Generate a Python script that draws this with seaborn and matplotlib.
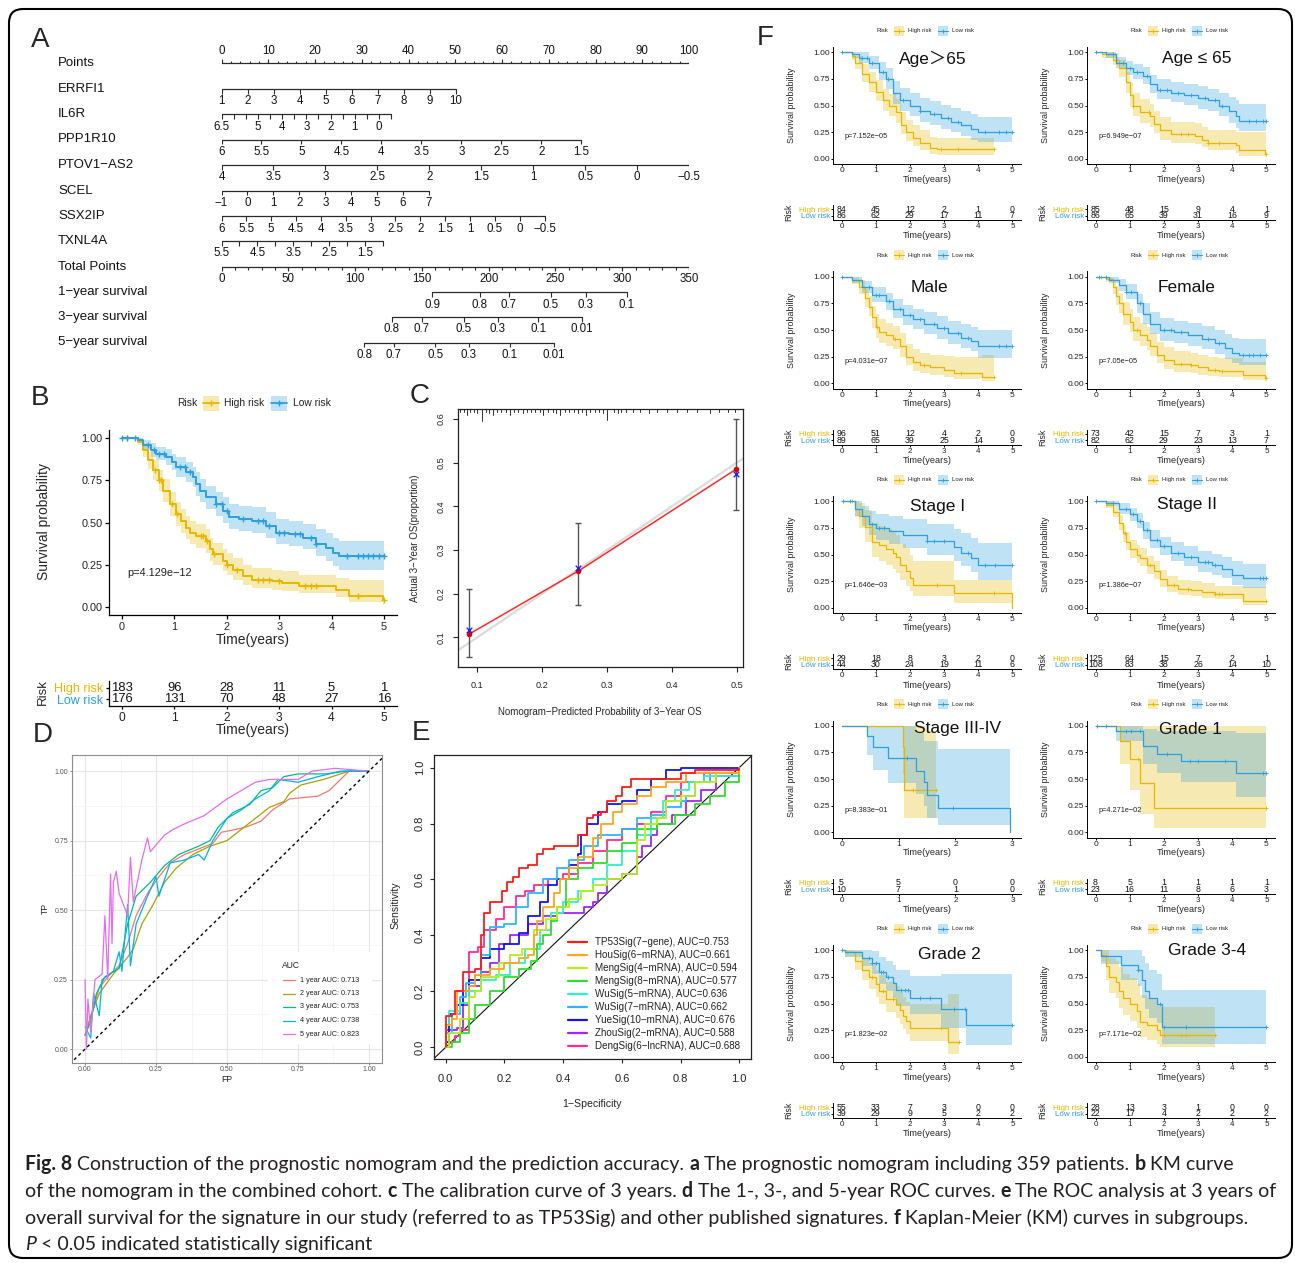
import numpy as np
import matplotlib
matplotlib.use('Agg')
import matplotlib.pyplot as plt
import seaborn as sns
from matplotlib.patches import Rectangle, FancyBboxPatch

W, H = 1295, 1263
sns.set_theme(style='white')
plt.rcParams['font.family'] = ['Liberation Sans', 'DejaVu Sans']
plt.rcParams['axes.unicode_minus'] = True
HIGH_C = '#E7B800'
LOW_C = '#2E9FDF'

# ===================== DATA =====================
# ---- A: nomogram (value ticks, points at first / last value) ----
nomo_names = ['Points', 'ERRFI1', 'IL6R', 'PPP1R10', 'PTOV1−AS2', 'SCEL', 'SSX2IP', 'TXNL4A',
              'Total Points', '1−year survival', '3−year survival', '5−year survival']
ERRFI1_vals = [1, 2, 3, 4, 5, 6, 7, 8, 9, 10]
ERRFI1_lab = [1, 2, 3, 4, 5, 6, 7, 8, 9, 10]
ERRFI1_pts = (0, 50.1)
IL6R_vals = [6.5, 6, 5.5, 5, 4.5, 4, 3.5, 3, 2.5, 2, 1.5, 1, 0.5, 0, -0.5]
IL6R_lab = [6.5, 5, 4, 3, 2, 1, 0]
IL6R_pts = (0, 36.3)
PPP1R10_vals = [6, 5.5, 5, 4.5, 4, 3.5, 3, 2.5, 2, 1.5]
PPP1R10_lab = PPP1R10_vals
PPP1R10_pts = (0, 77.0)
PTOV1_vals = [4, 3.5, 3, 2.5, 2, 1.5, 1, 0.5, 0, -0.5]
PTOV1_lab = PTOV1_vals
PTOV1_pts = (0, 100)
SCEL_vals = [-1, 0, 1, 2, 3, 4, 5, 6, 7]
SCEL_lab = SCEL_vals
SCEL_pts = (0, 44.4)
SSX2IP_vals = [6, 5.5, 5, 4.5, 4, 3.5, 3, 2.5, 2, 1.5, 1, 0.5, 0, -0.5]
SSX2IP_lab = SSX2IP_vals
SSX2IP_pts = (0, 69.1)
TXNL4A_vals = [5.5, 5, 4.5, 4, 3.5, 3, 2.5, 2, 1.5, 1.0]
TXNL4A_lab = [5.5, 4.5, 3.5, 2.5, 1.5]
TXNL4A_pts = (0, 34.5)
surv1_lab = [0.9, 0.8, 0.7, 0.5, 0.3, 0.1]
surv1_tot = [157.9, 193.4, 215.2, 246.7, 272.6, 303.4]
surv3_lab = [0.8, 0.7, 0.5, 0.3, 0.1, 0.01]
surv3_tot = [127.4, 149.9, 181.5, 206.9, 237.0, 269.7]
surv5_lab = [0.8, 0.7, 0.5, 0.3, 0.1, 0.01]
surv5_tot = [106.7, 128.8, 160.1, 185.1, 215.9, 248.6]

# ---- B: KM (time, surv, lower, upper) ----
B_high = [(0, 1, 1, 1), (0.3, 0.98, 0.96, 1.0), (0.4, 0.93, 0.89, 0.97), (0.5, 0.87, 0.82, 0.92),
          (0.59, 0.81, 0.75, 0.87), (0.7, 0.75, 0.69, 0.81), (0.78, 0.69, 0.62, 0.76), (0.91, 0.61, 0.54, 0.68),
          (1.03, 0.55, 0.48, 0.62), (1.12, 0.51, 0.44, 0.58), (1.22, 0.47, 0.40, 0.54), (1.3, 0.44, 0.37, 0.51),
          (1.41, 0.42, 0.35, 0.49), (1.6, 0.39, 0.32, 0.46), (1.67, 0.34, 0.27, 0.41), (1.73, 0.31, 0.25, 0.38),
          (1.92, 0.27, 0.21, 0.34), (2.0, 0.25, 0.19, 0.32), (2.11, 0.22, 0.16, 0.29), (2.3, 0.18, 0.13, 0.25),
          (2.49, 0.16, 0.11, 0.23), (2.87, 0.15, 0.10, 0.22), (3.06, 0.14, 0.09, 0.21), (3.38, 0.12, 0.08, 0.19),
          (4.08, 0.10, 0.06, 0.17), (4.33, 0.065, 0.03, 0.16), (4.99, 0.04, 0.01, 0.16)]
B_high_cens = [0.1, 0.62, 0.7, 0.75, 0.95, 1.05, 1.5, 1.55, 1.62, 1.75, 2.0, 2.2, 2.6, 2.7, 2.8, 3.0,
               3.5, 3.6, 3.7, 4.5, 5.0]
B_low = [(0, 1, 1, 1), (0.3, 0.99, 0.98, 1.0), (0.4, 0.96, 0.93, 0.99), (0.55, 0.93, 0.89, 0.97),
         (0.65, 0.91, 0.87, 0.95), (0.84, 0.89, 0.84, 0.94), (0.95, 0.86, 0.81, 0.91), (1.03, 0.83, 0.77, 0.89),
         (1.22, 0.80, 0.74, 0.86), (1.35, 0.77, 0.71, 0.83), (1.42, 0.73, 0.66, 0.80), (1.48, 0.69, 0.62, 0.76),
         (1.6, 0.65, 0.58, 0.72), (1.8, 0.61, 0.54, 0.68), (1.92, 0.57, 0.50, 0.65), (2.05, 0.53, 0.46, 0.61),
         (2.24, 0.52, 0.45, 0.60), (2.49, 0.51, 0.44, 0.59), (2.75, 0.48, 0.41, 0.56), (2.94, 0.44, 0.37, 0.52),
         (3.19, 0.43, 0.36, 0.51), (3.45, 0.41, 0.34, 0.49), (3.7, 0.37, 0.30, 0.46), (3.89, 0.35, 0.27, 0.44),
         (4.02, 0.32, 0.24, 0.41), (4.14, 0.30, 0.22, 0.39)]
B_low_cens = [0.0, 0.1, 0.25, 0.5, 0.6, 0.7, 0.8, 1.1, 1.2, 1.3, 1.8, 1.9, 2.0, 2.3, 2.6, 2.7, 2.8, 3.0,
              3.1, 3.3, 3.4, 3.6, 3.7, 4.3, 4.5, 4.6, 4.7, 4.8, 4.9, 5.0]
B_risk_high = [183, 96, 28, 11, 5, 1]
B_risk_low = [176, 131, 70, 48, 27, 16]

# ---- C: calibration ----
cal_pred = [0.087, 0.256, 0.499]
cal_obs = [0.107, 0.252, 0.485]
cal_km = [0.117, 0.259, 0.473]
cal_lo = [0.055, 0.175, 0.392]
cal_hi = [0.211, 0.361, 0.599]
cal_rug = [(0.073, 3), (0.079, 3), (0.084, 6), (0.089, 3), (0.095, 3), (0.100, 4), (0.107, 12), (0.113, 3),
           (0.118, 4), (0.124, 6), (0.131, 3), (0.137, 3), (0.144, 3), (0.151, 6), (0.157, 3), (0.163, 3),
           (0.170, 4), (0.177, 3), (0.183, 3), (0.189, 3), (0.196, 3), (0.202, 6), (0.209, 3), (0.216, 3),
           (0.222, 4), (0.228, 6), (0.235, 3), (0.241, 3), (0.249, 3), (0.255, 4), (0.262, 3), (0.268, 6),
           (0.274, 3), (0.281, 3), (0.287, 3), (0.294, 4), (0.300, 11), (0.310, 3), (0.317, 4), (0.322, 3),
           (0.330, 3), (0.340, 3), (0.351, 3), (0.364, 4), (0.377, 3), (0.392, 3), (0.408, 3), (0.423, 3),
           (0.438, 3), (0.459, 4), (0.472, 3), (0.487, 3), (0.497, 3)]

# ---- D: time-dependent ROC (FP, TP) ----
D_labels = ['1 year AUC: 0.713', '2 year AUC: 0.713', '3 year AUC: 0.753', '4 year AUC: 0.738', '5 year AUC: 0.823']
D_colors = ['#F8766D', '#A3A500', '#00BF7D', '#00B0F6', '#E76BF3']
roc_1y = [(0, 0.05), (0.01, 0.08), (0.03, 0.15), (0.05, 0.22), (0.08, 0.26), (0.12, 0.30), (0.15, 0.38),
          (0.18, 0.48), (0.22, 0.56), (0.26, 0.62), (0.30, 0.67), (0.35, 0.70), (0.40, 0.72), (0.45, 0.74),
          (0.48, 0.78), (0.53, 0.79), (0.57, 0.80), (0.62, 0.82), (0.66, 0.86), (0.72, 0.90), (0.82, 0.91),
          (0.86, 0.93), (0.90, 0.97), (0.93, 1.0), (1, 1)]
roc_2y = [(0, 0.05), (0.02, 0.12), (0.05, 0.2), (0.1, 0.27), (0.15, 0.33), (0.17, 0.36), (0.2, 0.45),
          (0.24, 0.52), (0.28, 0.6), (0.32, 0.65), (0.38, 0.70), (0.44, 0.73), (0.50, 0.75), (0.55, 0.79),
          (0.60, 0.83), (0.65, 0.87), (0.70, 0.89), (0.72, 0.92), (0.76, 0.95), (0.84, 0.97), (0.90, 0.99),
          (0.93, 1.0), (1, 1)]
roc_3y = [(0, 0.05), (0.02, 0.1), (0.04, 0.2), (0.07, 0.26), (0.12, 0.29), (0.15, 0.45), (0.18, 0.55),
          (0.23, 0.6), (0.28, 0.66), (0.33, 0.7), (0.40, 0.73), (0.44, 0.75), (0.47, 0.8), (0.52, 0.85),
          (0.58, 0.88), (0.62, 0.93), (0.66, 0.94), (0.7, 0.98), (0.75, 0.99), (0.85, 0.99), (0.92, 1.0), (1, 1)]
roc_4y = [(0, 0.08), (0.02, 0.04), (0.03, 0.2), (0.05, 0.12), (0.06, 0.25), (0.1, 0.28), (0.12, 0.35),
          (0.13, 0.28), (0.15, 0.52), (0.16, 0.30), (0.18, 0.45), (0.22, 0.55), (0.25, 0.62), (0.26, 0.55),
          (0.3, 0.67), (0.35, 0.68), (0.4, 0.7), (0.42, 0.68), (0.45, 0.75), (0.5, 0.83), (0.55, 0.86),
          (0.6, 0.9), (0.65, 0.93), (0.68, 0.97), (0.75, 0.96), (0.82, 0.98), (0.9, 1.0), (1, 1)]
roc_5y = [(0, 0.25), (0.005, 0.0), (0.01, 0.18), (0.02, 0.06), (0.035, 0.25), (0.06, 0.27), (0.07, 0.48),
          (0.08, 0.25), (0.09, 0.63), (0.095, 0.38), (0.1, 0.6), (0.11, 0.64), (0.12, 0.56), (0.15, 0.48),
          (0.16, 0.69), (0.17, 0.53), (0.2, 0.68), (0.22, 0.76), (0.23, 0.71), (0.28, 0.77), (0.31, 0.79),
          (0.35, 0.81), (0.42, 0.84), (0.5, 0.9), (0.55, 0.93), (0.6, 0.96), (0.65, 0.97), (0.75, 0.97),
          (0.8, 1.0), (0.88, 1.01), (1, 1)]

# ---- E: comparison ROC (1-specificity, sensitivity) ----
E_labels = ['TP53Sig(7−gene), AUC=0.753', 'HouSig(6−mRNA), AUC=0.661', 'MengSig(4−mRNA), AUC=0.594',
            'MengSig(8−mRNA), AUC=0.577', 'WuSig(5−mRNA), AUC=0.636', 'WuSig(7−mRNA), AUC=0.662',
            'YueSig(10−mRNA), AUC=0.676', 'ZhouSig(2−mRNA), AUC=0.588', 'DengSig(6−lncRNA), AUC=0.688']
E_colors = ['#FF1A1A', '#FFA51F', '#B5EE1F', '#2EDD2E', '#2EF2C4', '#2EB4FF', '#1414F0', '#A326F2', '#FF2B95']
tp53 = [(0, 0.0), (0, 0.11), (0.02, 0.12), (0.03, 0.2), (0.06, 0.21), (0.06, 0.27), (0.1, 0.28), (0.12, 0.4),
        (0.13, 0.48), (0.15, 0.52), (0.19, 0.56), (0.21, 0.59), (0.23, 0.61), (0.25, 0.64), (0.28, 0.65),
        (0.31, 0.69), (0.33, 0.71), (0.37, 0.72), (0.43, 0.72), (0.45, 0.76), (0.48, 0.82), (0.5, 0.83),
        (0.53, 0.84), (0.55, 0.88), (0.58, 0.9), (0.6, 0.93), (0.63, 0.96), (0.75, 0.96), (0.8, 0.98),
        (0.85, 0.99), (1.0, 1.0)]
hou = [(0, 0.0), (0, 0.08), (0.02, 0.1), (0.04, 0.2), (0.08, 0.22), (0.1, 0.26), (0.15, 0.28), (0.2, 0.3),
       (0.25, 0.32), (0.28, 0.33), (0.3, 0.4), (0.31, 0.45), (0.33, 0.5), (0.37, 0.55), (0.39, 0.6), (0.42, 0.64),
       (0.45, 0.68), (0.5, 0.75), (0.53, 0.8), (0.57, 0.84), (0.6, 0.87), (0.65, 0.9), (0.7, 0.93),
       (0.75, 0.95), (0.82, 0.98), (1, 1)]
meng4 = [(0, 0.0), (0.01, 0.05), (0.05, 0.1), (0.08, 0.18), (0.1, 0.2), (0.12, 0.25), (0.18, 0.3),
         (0.22, 0.33), (0.26, 0.35), (0.3, 0.42), (0.34, 0.46), (0.38, 0.5), (0.42, 0.53), (0.46, 0.56),
         (0.5, 0.58), (0.55, 0.6), (0.6, 0.62), (0.65, 0.64), (0.65, 0.74), (0.68, 0.8), (0.72, 0.82),
         (0.75, 0.88), (0.8, 0.9), (0.85, 0.95), (0.92, 0.98), (1, 1)]
meng8 = [(0, 0.0), (0.02, 0.02), (0.05, 0.05), (0.08, 0.1), (0.1, 0.15), (0.15, 0.2), (0.2, 0.25),
         (0.25, 0.28), (0.29, 0.31), (0.31, 0.37), (0.33, 0.4), (0.36, 0.45), (0.38, 0.5), (0.41, 0.6),
         (0.45, 0.64), (0.5, 0.66), (0.55, 0.7), (0.6, 0.73), (0.65, 0.78), (0.72, 0.8), (0.78, 0.83),
         (0.85, 0.87), (0.9, 0.9), (0.95, 0.95), (1, 1)]
wu5 = [(0, 0.0), (0, 0.08), (0.01, 0.13), (0.05, 0.16), (0.08, 0.2), (0.12, 0.24), (0.17, 0.26), (0.22, 0.3),
       (0.27, 0.35), (0.32, 0.42), (0.36, 0.48), (0.4, 0.52), (0.45, 0.56), (0.5, 0.6), (0.55, 0.65),
       (0.6, 0.7), (0.65, 0.76), (0.7, 0.82), (0.74, 0.88), (0.78, 0.92), (0.83, 0.95), (0.88, 0.97), (1, 1)]
wu7 = [(0, 0.0), (0, 0.05), (0.02, 0.12), (0.05, 0.18), (0.07, 0.23), (0.1, 0.26), (0.12, 0.33), (0.15, 0.43),
       (0.2, 0.44), (0.24, 0.5), (0.28, 0.55), (0.33, 0.6), (0.38, 0.64), (0.42, 0.67), (0.47, 0.72),
       (0.52, 0.76), (0.6, 0.78), (0.65, 0.82), (0.7, 0.83), (0.75, 0.86), (0.8, 0.88), (0.82, 0.9),
       (0.85, 0.95), (0.9, 0.98), (1, 1)]
yue = [(0, 0.0), (0, 0.02), (0.01, 0.12), (0.04, 0.15), (0.06, 0.2), (0.08, 0.24), (0.12, 0.32), (0.15, 0.35),
       (0.2, 0.37), (0.25, 0.41), (0.28, 0.47), (0.32, 0.52), (0.35, 0.58), (0.38, 0.6), (0.42, 0.65),
       (0.45, 0.69), (0.46, 0.76), (0.48, 0.8), (0.52, 0.84), (0.55, 0.87), (0.6, 0.88), (0.65, 0.92),
       (0.7, 0.96), (0.75, 0.99), (0.8, 1.0), (1, 1)]
zhou = [(0, 0.0), (0, 0.06), (0.04, 0.07), (0.06, 0.15), (0.08, 0.22), (0.12, 0.27), (0.15, 0.3), (0.18, 0.37),
        (0.22, 0.4), (0.28, 0.44), (0.33, 0.47), (0.38, 0.48), (0.42, 0.48), (0.47, 0.5), (0.5, 0.52),
        (0.52, 0.55), (0.55, 0.6), (0.6, 0.62), (0.65, 0.64), (0.65, 0.68), (0.67, 0.72), (0.7, 0.76),
        (0.72, 0.8), (0.77, 0.83), (0.82, 0.88), (0.87, 0.92), (0.92, 0.97), (1, 1)]
deng = [(0, 0.0), (0.01, 0.02), (0.03, 0.04), (0.05, 0.06), (0.08, 0.15), (0.08, 0.34), (0.11, 0.36),
        (0.13, 0.42), (0.17, 0.46), (0.2, 0.5), (0.24, 0.54), (0.27, 0.56), (0.3, 0.58), (0.35, 0.6),
        (0.4, 0.62), (0.45, 0.66), (0.5, 0.7), (0.55, 0.74), (0.6, 0.78), (0.65, 0.8), (0.7, 0.84),
        (0.75, 0.9), (0.8, 0.95), (0.88, 0.98), (1, 1)]

# ---- F: subgroup KM curves ----
age_gt_high = [(0, 1, 1, 1), (0.3, 0.97, 0.93, 1.0), (0.4, 0.9, 0.84, 0.97), (0.6, 0.8, 0.72, 0.89),
               (0.8, 0.72, 0.63, 0.82), (1.0, 0.63, 0.54, 0.74), (1.2, 0.55, 0.45, 0.66), (1.4, 0.5, 0.40, 0.61),
               (1.6, 0.44, 0.34, 0.56), (1.75, 0.32, 0.23, 0.44), (1.9, 0.25, 0.17, 0.37), (2.1, 0.2, 0.12, 0.32),
               (2.3, 0.15, 0.08, 0.27), (2.6, 0.1, 0.05, 0.21), (2.8, 0.09, 0.04, 0.2)]
age_gt_high_cens = [2.9, 3.4, 4.45]
age_gt_low = [(0, 1, 1, 1), (0.3, 0.98, 0.95, 1), (0.5, 0.95, 0.9, 1.0), (0.8, 0.9, 0.84, 0.97),
              (1.1, 0.82, 0.74, 0.91), (1.3, 0.75, 0.66, 0.85), (1.5, 0.62, 0.52, 0.73), (1.7, 0.55, 0.45, 0.67),
              (2.0, 0.5, 0.4, 0.62), (2.3, 0.45, 0.35, 0.57), (2.6, 0.42, 0.32, 0.54), (2.9, 0.38, 0.28, 0.51),
              (3.2, 0.35, 0.25, 0.48), (3.5, 0.32, 0.22, 0.45), (3.8, 0.28, 0.18, 0.42), (4.0, 0.25, 0.16, 0.39)]
age_gt_low_cens = [0.0, 0.6, 0.75, 0.9, 1.2, 1.35, 1.8, 2.3, 2.7, 3.1, 3.4, 4.2, 4.6, 4.8, 5.0]
age_le_high = [(0, 1, 1, 1), (0.2, 0.98, 0.95, 1), (0.5, 0.93, 0.88, 0.99), (0.7, 0.85, 0.77, 0.93),
               (0.9, 0.72, 0.62, 0.82), (1.0, 0.6, 0.5, 0.71), (1.1, 0.5, 0.4, 0.62), (1.3, 0.44, 0.34, 0.56),
               (1.6, 0.4, 0.3, 0.52), (1.7, 0.33, 0.24, 0.45), (1.9, 0.27, 0.18, 0.39), (2.2, 0.23, 0.15, 0.35),
               (2.9, 0.22, 0.14, 0.34), (3.1, 0.18, 0.11, 0.3), (3.3, 0.15, 0.08, 0.27), (4.1, 0.13, 0.06, 0.25),
               (4.2, 0.08, 0.03, 0.25), (4.95, 0.05, 0.02, 0.25)]
age_le_high_cens = [0.3, 1.1, 1.55, 2.5, 2.7, 3.3, 3.6, 5.0]
age_le_low = [(0, 1, 1, 1), (0.3, 0.98, 0.95, 1), (0.6, 0.9, 0.85, 0.96), (0.9, 0.85, 0.79, 0.92),
              (1.1, 0.82, 0.75, 0.89), (1.4, 0.78, 0.7, 0.86), (1.6, 0.7, 0.62, 0.79), (1.8, 0.65, 0.56, 0.75),
              (2.2, 0.62, 0.53, 0.72), (2.6, 0.6, 0.51, 0.7), (3.0, 0.57, 0.47, 0.68), (3.3, 0.55, 0.45, 0.66),
              (3.6, 0.5, 0.4, 0.62), (3.9, 0.45, 0.34, 0.58), (4.1, 0.4, 0.29, 0.55), (4.2, 0.36, 0.26, 0.52)]
age_le_low_cens = [0, 0.5, 0.8, 1.0, 1.2, 1.5, 1.9, 2.1, 2.4, 2.8, 3.2, 3.5, 3.7, 4.5, 4.7, 4.9, 5.0]
male_high = [(0, 1, 1, 1), (0.3, 0.97, 0.93, 1), (0.5, 0.9, 0.84, 0.97), (0.7, 0.8, 0.72, 0.89),
             (0.8, 0.72, 0.63, 0.82), (0.9, 0.62, 0.52, 0.73), (1.0, 0.53, 0.43, 0.65), (1.1, 0.48, 0.38, 0.6),
             (1.3, 0.45, 0.35, 0.57), (1.5, 0.42, 0.32, 0.54), (1.7, 0.35, 0.25, 0.47), (1.9, 0.25, 0.17, 0.37),
             (2.1, 0.2, 0.12, 0.32), (2.3, 0.17, 0.1, 0.29), (2.6, 0.15, 0.08, 0.27), (3.0, 0.13, 0.06, 0.26),
             (3.3, 0.1, 0.04, 0.25), (4.1, 0.06, 0.02, 0.27)]
male_high_cens = [1.05, 1.55, 2.4, 3.5, 4.45]
male_low = [(0, 1, 1, 1), (0.3, 0.97, 0.94, 1), (0.6, 0.9, 0.85, 0.96), (0.9, 0.83, 0.76, 0.9),
            (1.3, 0.77, 0.69, 0.85), (1.5, 0.7, 0.61, 0.79), (1.8, 0.64, 0.55, 0.74), (2.1, 0.6, 0.51, 0.7),
            (2.4, 0.56, 0.46, 0.67), (2.8, 0.52, 0.42, 0.63), (3.1, 0.47, 0.37, 0.59), (3.5, 0.43, 0.33, 0.56),
            (3.8, 0.4, 0.3, 0.53), (4.0, 0.35, 0.24, 0.5)]
male_low_cens = [0, 0.8, 1.0, 1.1, 1.4, 1.7, 2.0, 2.3, 2.7, 3.0, 3.4, 3.7, 4.6, 4.8, 5.0]
female_high = [(0, 1, 1, 1), (0.3, 0.98, 0.95, 1), (0.5, 0.9, 0.84, 0.97), (0.6, 0.82, 0.74, 0.91),
               (0.7, 0.75, 0.66, 0.85), (0.8, 0.65, 0.55, 0.76), (1.0, 0.58, 0.48, 0.7), (1.1, 0.5, 0.4, 0.62),
               (1.3, 0.45, 0.35, 0.57), (1.5, 0.41, 0.31, 0.53), (1.6, 0.35, 0.26, 0.47), (1.8, 0.27, 0.19, 0.39),
               (2.0, 0.22, 0.14, 0.34), (2.3, 0.18, 0.11, 0.3), (2.8, 0.17, 0.1, 0.29), (3.0, 0.15, 0.08, 0.27),
               (3.3, 0.13, 0.07, 0.25), (3.6, 0.12, 0.06, 0.24), (4.3, 0.08, 0.03, 0.2), (4.95, 0.05, 0.01, 0.2)]
female_high_cens = [0.15, 1.2, 2.5, 2.8, 3.5, 3.7, 5.0]
female_low = [(0, 1, 1, 1), (0.4, 0.97, 0.94, 1), (0.7, 0.92, 0.87, 0.98), (0.9, 0.86, 0.79, 0.93),
              (1.2, 0.75, 0.66, 0.84), (1.4, 0.65, 0.56, 0.75), (1.6, 0.56, 0.46, 0.67), (1.9, 0.5, 0.4, 0.61),
              (2.3, 0.48, 0.38, 0.59), (2.7, 0.45, 0.35, 0.57), (3.1, 0.42, 0.32, 0.54), (3.5, 0.38, 0.28, 0.5),
              (3.8, 0.33, 0.23, 0.46), (4.0, 0.29, 0.19, 0.43), (4.2, 0.27, 0.17, 0.42)]
female_low_cens = [0.1, 0.3, 0.9, 1.05, 1.3, 2.0, 2.2, 2.5, 3.3, 3.6, 4.3, 4.5, 4.6, 4.8, 5.0]
st1_high = [(0, 1, 1, 1), (0.4, 0.93, 0.85, 1), (0.5, 0.86, 0.75, 0.98), (0.7, 0.76, 0.62, 0.92),
            (0.9, 0.62, 0.48, 0.8), (1.1, 0.59, 0.44, 0.77), (1.3, 0.55, 0.4, 0.74), (1.5, 0.52, 0.37, 0.71),
            (1.6, 0.48, 0.33, 0.68), (1.7, 0.4, 0.26, 0.6), (1.9, 0.35, 0.21, 0.56), (2.0, 0.28, 0.16, 0.5),
            (2.1, 0.22, 0.11, 0.44), (3.3, 0.14, 0.05, 0.26), (4.98, 0.0, 0.05, 0.26)]
st1_high_cens = [0.3, 2.8, 4.45]
st1_low = [(0, 1, 1, 1), (0.4, 0.93, 0.86, 1), (0.6, 0.86, 0.77, 0.96), (0.8, 0.79, 0.68, 0.91),
           (1.0, 0.75, 0.64, 0.88), (1.4, 0.72, 0.6, 0.86), (1.8, 0.68, 0.56, 0.83), (2.5, 0.63, 0.5, 0.79),
           (3.3, 0.57, 0.44, 0.74), (3.5, 0.52, 0.39, 0.7), (3.8, 0.47, 0.34, 0.66), (4.0, 0.4, 0.26, 0.61)]
st1_low_cens = [0.05, 0.25, 0.9, 1.1, 1.25, 2.5, 2.7, 3.0, 3.7, 4.2, 4.5, 5.0]
st2_high = [(0, 1, 1, 1), (0.3, 0.97, 0.94, 1), (0.5, 0.9, 0.85, 0.96), (0.7, 0.8, 0.73, 0.87),
            (0.8, 0.7, 0.62, 0.78), (0.9, 0.62, 0.54, 0.71), (1.0, 0.55, 0.47, 0.64), (1.2, 0.5, 0.42, 0.59),
            (1.3, 0.47, 0.39, 0.56), (1.5, 0.4, 0.32, 0.49), (1.7, 0.35, 0.27, 0.44), (1.9, 0.27, 0.2, 0.36),
            (2.1, 0.22, 0.15, 0.3), (2.4, 0.18, 0.12, 0.26), (2.8, 0.17, 0.11, 0.25), (3.1, 0.15, 0.09, 0.23),
            (3.5, 0.13, 0.08, 0.21), (4.3, 0.07, 0.03, 0.2)]
st2_high_cens = [0.85, 1.6, 2.3, 2.7, 3.5, 3.6, 3.7, 5.0]
st2_low = [(0, 1, 1, 1), (0.3, 0.98, 0.96, 1), (0.7, 0.93, 0.88, 0.98), (1.0, 0.88, 0.82, 0.94),
           (1.2, 0.82, 0.75, 0.89), (1.4, 0.73, 0.65, 0.81), (1.6, 0.64, 0.56, 0.73), (1.9, 0.58, 0.5, 0.67),
           (2.2, 0.52, 0.44, 0.62), (2.6, 0.48, 0.39, 0.58), (3.0, 0.43, 0.34, 0.53), (3.4, 0.4, 0.31, 0.51),
           (3.7, 0.37, 0.28, 0.48), (4.0, 0.31, 0.22, 0.44), (4.3, 0.28, 0.19, 0.41)]
st2_low_cens = [0, 0.5, 0.9, 1.1, 1.3, 1.5, 1.8, 2.0, 2.4, 2.8, 3.2, 3.3, 3.5, 4.8, 4.9, 5.0]
st34_high = [(0, 1, 1, 1), (1.08, 0.8, 0.55, 1), (1.1, 0.4, 0.14, 1.0), (1.5, 0.4, 0.14, 0.95)]
st34_high_cens = [1.25, 1.65]
st34_low = [(0, 1, 1, 1), (0.44, 0.9, 0.73, 1), (0.56, 0.8, 0.59, 1), (0.82, 0.7, 0.46, 1),
            (1.3, 0.58, 0.36, 0.93), (1.45, 0.47, 0.25, 0.86), (1.5, 0.35, 0.14, 0.86), (1.7, 0.23, 0.07, 0.78),
            (2.95, 0.0, 0.0, 0.0)]
st34_low_cens = [1.15, 1.95]
g1_high = [(0, 1, 1, 1), (0.72, 0.86, 0.64, 1), (1.0, 0.69, 0.4, 1), (1.3, 0.46, 0.17, 1), (1.7, 0.23, 0.04, 1)]
g1_high_cens = [1.25, 5.0]
g1_low = [(0, 1, 1, 1), (0.6, 0.95, 0.86, 1), (1.4, 0.81, 0.64, 0.97), (1.8, 0.74, 0.56, 0.95),
          (2.5, 0.67, 0.47, 0.95), (4.1, 0.56, 0.33, 0.93)]
g1_low_cens = [0.05, 0.3, 0.9, 1.05, 1.3, 2.1, 2.75, 3.0, 3.8, 4.9, 5.0]
g2_high = [(0, 1, 1, 1), (0.1, 0.98, 0.94, 1), (0.4, 0.9, 0.82, 0.99), (0.6, 0.82, 0.72, 0.93),
           (0.8, 0.75, 0.64, 0.88), (1.0, 0.68, 0.56, 0.82), (1.1, 0.62, 0.5, 0.77), (1.3, 0.54, 0.42, 0.7),
           (1.6, 0.5, 0.37, 0.67), (1.7, 0.44, 0.31, 0.61), (1.8, 0.38, 0.26, 0.56), (1.9, 0.34, 0.22, 0.52),
           (2.0, 0.27, 0.15, 0.5), (3.1, 0.14, 0.03, 0.59)]
g2_high_cens = [0.9, 1.2, 1.5, 2.9, 3.45]
g2_low = [(0, 1, 1, 1), (0.1, 0.98, 0.94, 1), (0.6, 0.93, 0.85, 1), (0.9, 0.88, 0.78, 0.99),
          (1.1, 0.8, 0.68, 0.94), (1.3, 0.75, 0.62, 0.9), (1.5, 0.69, 0.55, 0.86), (1.6, 0.63, 0.48, 0.82),
          (2.0, 0.55, 0.4, 0.76), (2.9, 0.45, 0.27, 0.78), (3.65, 0.3, 0.11, 0.78)]
g2_low_cens = [0.0, 0.8, 0.9, 1.0, 1.15, 1.2, 1.35, 1.75, 1.85, 1.95, 2.3, 2.6, 3.3, 3.6, 5.0]
g34_high = [(0, 1, 1, 1), (0.15, 0.96, 0.89, 1), (0.3, 0.85, 0.72, 1), (0.4, 0.75, 0.6, 0.93),
            (0.6, 0.7, 0.55, 0.9), (0.7, 0.62, 0.46, 0.84), (0.8, 0.55, 0.39, 0.78), (1.0, 0.5, 0.34, 0.74),
            (1.2, 0.43, 0.27, 0.68), (1.3, 0.33, 0.19, 0.58), (1.5, 0.3, 0.16, 0.55), (1.8, 0.25, 0.12, 0.5),
            (1.9, 0.21, 0.09, 0.47)]
g34_high_cens = [2.0, 2.5, 2.65, 3.5]
g34_low = [(0, 1, 1, 1), (0.15, 0.95, 0.87, 1), (0.75, 0.86, 0.72, 1), (1.25, 0.82, 0.67, 1),
           (1.35, 0.72, 0.55, 0.95), (1.45, 0.62, 0.45, 0.88), (1.55, 0.55, 0.37, 0.82), (1.8, 0.5, 0.32, 0.78),
           (1.95, 0.28, 0.12, 0.63)]
g34_low_cens = [1.25, 1.9, 2.0, 2.65, 5.0]

F_titles = ['Age＞65', 'Age ≤ 65', 'Male', 'Female', 'Stage I', 'Stage II', 'Stage III-IV', 'Grade 1',
            'Grade 2', 'Grade 3-4']
F_pvals = ['p=7.152e−05', 'p=6.949e−07', 'p=4.031e−07', 'p=7.05e−05', 'p=1.646e−03', 'p=1.386e−07',
           'p=8.383e−01', 'p=4.271e−02', 'p=1.823e−02', 'p=7.171e−02']
F_risk_high = [[84, 45, 12, 2, 1, 0], [85, 48, 15, 9, 4, 1], [96, 51, 12, 4, 2, 0], [73, 42, 15, 7, 3, 1],
               [29, 18, 8, 3, 2, 0], [125, 64, 15, 7, 2, 1], [5, 5, 0, 0], [8, 5, 1, 1, 1, 1],
               [55, 33, 7, 3, 0, 0], [28, 13, 3, 1, 0, 0]]
F_risk_low = [[86, 62, 29, 17, 11, 7], [86, 65, 39, 31, 16, 9], [89, 65, 39, 25, 14, 9], [82, 62, 29, 23, 13, 7],
              [44, 30, 24, 19, 11, 6], [108, 83, 38, 26, 14, 10], [10, 7, 1, 0], [23, 16, 11, 8, 6, 3],
              [39, 29, 9, 5, 2, 2], [22, 17, 4, 2, 2, 2]]
F_xmax = [5, 5, 5, 5, 5, 5, 3, 5, 5, 5]
F_ends = [(4.45, 5.0), (5.0, 5.0), (4.45, 5.0), (5.0, 5.0), (5.0, 5.0), (5.0, 5.0), (1.65, 2.95),
          (5.0, 5.0), (3.45, 5.0), (3.5, 5.0)]

# caption
caption_lines = [
    [("Fig. 8", 'bold'), (" Construction of the prognostic nomogram and the prediction accuracy. ", 'normal'),
     ("a", 'bold'), (" The prognostic nomogram including 359 patients. ", 'normal'), ("b", 'bold'),
     (" KM curve", 'normal')],
    [("of the nomogram in the combined cohort. ", 'normal'), ("c", 'bold'),
     (" The calibration curve of 3 years. ", 'normal'), ("d", 'bold'),
     (" The 1-, 3-, and 5-year ROC curves. ", 'normal'), ("e", 'bold'),
     (" The ROC analysis at 3 years of", 'normal')],
    [("overall survival for the signature in our study (referred to as TP53Sig) and other published signatures. ",
      'normal'), ("f", 'bold'), (" Kaplan-Meier (KM) curves in subgroups.", 'normal')],
    [("P", 'italic'), (" < 0.05 indicated statistically significant", 'normal')],
]

# ===================== FIGURE =====================
fig = plt.figure(figsize=(W / 100, H / 100), dpi=100)
fig.patch.set_facecolor('white')


def px_axes(x0, y0, x1, y1, z=1):
    return fig.add_axes([x0 / W, 1 - y1 / H, (x1 - x0) / W, (y1 - y0) / H], zorder=z)


ov = fig.add_axes([0, 0, 1, 1], zorder=20)
ov.set_xlim(0, W)
ov.set_ylim(H, 0)
ov.axis('off')

# panel letters
for lab, (x, y) in zip('ABCDEF', [(40, 40), (40, 398), (420, 396), (43, 735), (421, 733), (765, 38)]):
    ov.text(x, y, lab, fontsize=20, ha='center', va='center')

# ---------------- A: nomogram ----------------
axA = px_axes(221.5, 30, 689, 370)
axA.set_xlim(0, 100)
axA.set_ylim(370, 30)
axA.axis('off')
row_y = [63, 89, 114, 139.5, 165, 190.5, 216, 241, 266.5, 292, 317, 342.5]
NC = '#2b2b2b'
for name, y in zip(nomo_names, row_y):
    ov.text(58, y, name, fontsize=9.5, ha='left', va='center', color='#111111')


def fmtv(v):
    return ('%g' % v).replace('-', '−')


# Points axis
pts_minor = list(range(0, 101, 2))
pts_major = list(range(0, 101, 10))
y0 = row_y[0]
axA.plot([0, 100], [y0, y0], color=NC, lw=0.9)
axA.vlines(pts_minor, y0 - 2.5, y0, color=NC, lw=0.8)
axA.vlines(pts_major, y0 - 4.5, y0, color=NC, lw=0.8)
for p in pts_major:
    axA.text(p, y0 - 11.5, str(p), fontsize=8.3, ha='center', va='center', color='#111111')


def nomo_scale(y, vals, labs, pr):
    v0, v1 = vals[0], vals[-1]
    pts = [pr[0] + (v - v0) / (v1 - v0) * (pr[1] - pr[0]) for v in vals]
    axA.plot([min(pts), max(pts)], [y, y], color=NC, lw=0.9)
    axA.vlines(pts, y, y + 4.5, color=NC, lw=0.8)
    for v in labs:
        p = pr[0] + (v - v0) / (v1 - v0) * (pr[1] - pr[0])
        axA.text(p, y + 12.5, fmtv(v), fontsize=8.3, ha='center', va='center', color='#111111')


nomo_scale(row_y[1], ERRFI1_vals, ERRFI1_lab, ERRFI1_pts)
nomo_scale(row_y[2], IL6R_vals, IL6R_lab, IL6R_pts)
nomo_scale(row_y[3], PPP1R10_vals, PPP1R10_lab, PPP1R10_pts)
nomo_scale(row_y[4], PTOV1_vals, PTOV1_lab, PTOV1_pts)
nomo_scale(row_y[5], SCEL_vals, SCEL_lab, SCEL_pts)
nomo_scale(row_y[6], SSX2IP_vals, SSX2IP_lab, SSX2IP_pts)
nomo_scale(row_y[7], TXNL4A_vals, TXNL4A_lab, TXNL4A_pts)

# Total points axis (0-350 on the 0-100 points scale)
yt = row_y[8]
tot_ticks = list(range(0, 351, 10))
tot_labs = list(range(0, 351, 50))
axA.plot([0, 100], [yt, yt], color=NC, lw=0.9)
axA.vlines([t / 3.5 for t in tot_ticks], yt, yt + 3, color=NC, lw=0.8)
axA.vlines([t / 3.5 for t in tot_labs], yt, yt + 4.5, color=NC, lw=0.8)
for t in tot_labs:
    axA.text(t / 3.5, yt + 12.5, str(t), fontsize=8.3, ha='center', va='center', color='#111111')

for y, labs, tots in [(row_y[9], surv1_lab, surv1_tot), (row_y[10], surv3_lab, surv3_tot),
                      (row_y[11], surv5_lab, surv5_tot)]:
    xs = [t / 3.5 for t in tots]
    axA.plot([min(xs), max(xs)], [y, y], color=NC, lw=0.9)
    axA.vlines(xs, y, y + 4.5, color=NC, lw=0.8)
    for x, l in zip(xs, labs):
        axA.text(x, y + 12.5, fmtv(l), fontsize=8.3, ha='center', va='center', color='#111111')


# ---------------- KM helpers ----------------
def km_curve(ax, data, end, cens, color, lw, ms, mew):
    t = [d[0] for d in data] + [end]
    s = [d[1] for d in data] + [data[-1][1]]
    lo = [d[2] for d in data] + [data[-1][2]]
    hi = [d[3] for d in data] + [data[-1][3]]
    ax.fill_between(t, lo, hi, step='post', color=color, alpha=0.3, lw=0)
    sns.lineplot(x=t, y=s, ax=ax, color=color, lw=lw, drawstyle='steps-post', estimator=None, sort=False)
    idx = np.searchsorted(np.array(t), np.array(cens), side='right') - 1
    cy = [s[min(i, len(s) - 1)] for i in idx]
    ax.plot(cens, cy, ls='none', marker='+', color=color, ms=ms, mew=mew)


def km_style(ax, xmax, fs, lw, tl, pad):
    ax.set_xlim(-0.05 * xmax, 1.05 * xmax)
    ax.set_ylim(-0.05, 1.05)
    ax.set_xticks(list(range(xmax + 1)))
    ax.set_yticks([0, 0.25, 0.5, 0.75, 1.0])
    ax.set_yticklabels(['0.00', '0.25', '0.50', '0.75', '1.00'])
    for sp in ['top', 'right']:
        ax.spines[sp].set_visible(False)
    for sp in ['left', 'bottom']:
        ax.spines[sp].set_color('black')
        ax.spines[sp].set_linewidth(lw)
    ax.tick_params(axis='both', bottom=True, left=True, direction='out', length=tl, width=lw,
                   color='black', labelsize=fs, pad=pad, labelcolor='#222222')
    ax.set_xlabel('')
    ax.set_ylabel('')
    ax.set_facecolor('white')


def risk_table(ax, xmax, nh, nl, fs_num, fs_lab, fs_tick, lw, tl, pad):
    ax.set_xlim(-0.05 * xmax, 1.05 * xmax)
    ax.set_ylim(0.4, 2.6)
    ax.set_xticks(list(range(xmax + 1)))
    ax.set_yticks([2, 1])
    ax.set_yticklabels(['High risk', 'Low risk'])
    for sp in ['top', 'right']:
        ax.spines[sp].set_visible(False)
    for sp in ['left', 'bottom']:
        ax.spines[sp].set_color('black')
        ax.spines[sp].set_linewidth(lw)
    ax.tick_params(axis='x', bottom=True, direction='out', length=tl, width=lw, color='black',
                   labelsize=fs_tick, pad=pad, labelcolor='#222222')
    ax.tick_params(axis='y', left=True, direction='out', length=tl, width=lw, color='black',
                   labelsize=fs_lab, pad=pad)
    for lab, c in zip(ax.get_yticklabels(), [HIGH_C, LOW_C]):
        lab.set_color(c)
    ax.set_facecolor('none')
    for i, (a, b) in enumerate(zip(nh, nl)):
        ax.text(i, 2, str(a), ha='center', va='center', fontsize=fs_num, color='#111111')
        ax.text(i, 1, str(b), ha='center', va='center', fontsize=fs_num, color='#111111')


def km_legend(cx, cy, sc, fs, lw, ms):
    ov.text(cx - 77 * sc, cy, 'Risk', fontsize=fs, ha='left', va='center', color='#222222')
    for k0, tx, lab, col in [(-51, -30, 'High risk', HIGH_C), (17, 39, 'Low risk', LOW_C)]:
        ov.add_patch(Rectangle((cx + k0 * sc, cy - 7.5 * sc), 16 * sc, 15 * sc, facecolor=col, alpha=0.3, lw=0))
        ov.plot([cx + k0 * sc, cx + (k0 + 16) * sc], [cy, cy], color=col, lw=lw)
        ov.plot([cx + (k0 + 8) * sc], [cy], marker='+', color=col, ms=ms, mew=lw * 0.8)
        ov.text(cx + tx * sc, cy, lab, fontsize=fs, ha='left', va='center', color='#222222')


# ---------------- B ----------------
axB = px_axes(109, 430, 397, 615)
km_curve(axB, B_high, 5.0, B_high_cens, HIGH_C, 1.4, 5, 1.0)
km_curve(axB, B_low, 5.0, B_low_cens, LOW_C, 1.4, 5, 1.0)
km_style(axB, 5, 7.8, 0.9, 2.8, 2.0)
axB.text(0.1, 0.2, 'p=4.129e−12', fontsize=7.9, ha='left', va='center', color='#222222')
km_legend(254, 403, 1.0, 7.4, 1.3, 5)
ov.text(44, 522, 'Survival probability', fontsize=10, rotation=90, ha='center', va='center')
ov.text(253, 640, 'Time(years)', fontsize=10, ha='center', va='center')
axBr = px_axes(109, 681, 397, 706)
risk_table(axBr, 5, B_risk_high, B_risk_low, 9.4, 9, 8.6, 0.9, 2.5, 1.5)
ov.text(43, 692, 'Risk', fontsize=9.5, rotation=90, ha='center', va='center')
ov.text(253, 730, 'Time(years)', fontsize=10, ha='center', va='center')

# ---------------- C ----------------
axC = px_axes(458, 409, 743, 667)
axC.set_xlim(0.0702, 0.5097)
axC.set_ylim(0.032, 0.623)
axC.plot([0, 1], [0, 1], color='#DCDCDC', lw=1.6, zorder=1)
axC.errorbar(cal_pred, cal_obs, yerr=[np.array(cal_obs) - np.array(cal_lo), np.array(cal_hi) - np.array(cal_obs)],
             fmt='none', ecolor='#555555', elinewidth=1.0, capsize=2.4, capthick=1.0, zorder=2)
sns.lineplot(x=cal_pred, y=cal_obs, ax=axC, color='#FF2A2A', lw=1.1, estimator=None, sort=False, zorder=3)
axC.scatter(cal_pred, cal_obs, s=16, color='#E00000', zorder=4, lw=0)
axC.scatter(cal_pred, cal_km, s=16, marker='x', color='#2020FF', lw=1.0, zorder=5)
for rx, rl in cal_rug:
    axC.plot([rx, rx], [0.623, 0.623 - rl * 0.00229], color='#333333', lw=0.7, clip_on=False)
axC.set_xticks([0.1, 0.2, 0.3, 0.4, 0.5])
axC.set_yticks([0.1, 0.2, 0.3, 0.4, 0.5, 0.6])
axC.set_yticklabels(['0.1', '0.2', '0.3', '0.4', '0.5', '0.6'], rotation=90, va='center')
for sp in axC.spines.values():
    sp.set_color('#222222')
    sp.set_linewidth(0.9)
axC.tick_params(axis='both', bottom=True, left=True, direction='out', length=3.4, width=0.8,
                color='#222222', labelsize=6.6, labelcolor='#222222')
axC.tick_params(axis='x', pad=7.0)
axC.tick_params(axis='y', pad=5.5)
axC.set_facecolor('white')
axC.set_xlabel('')
axC.set_ylabel('')
ov.text(600, 712, 'Nomogram−Predicted Probability of 3−Year OS', fontsize=7.0, ha='center', va='center')
ov.text(415, 538, 'Actual 3−Year OS(proportion)', fontsize=7.0, rotation=90, ha='center', va='center')

# ---------------- D ----------------
axD = px_axes(71.7, 755, 382.3, 1062.7)
axD.set_facecolor('white')
axD.set_xlim(-0.047, 1.047)
axD.set_ylim(-0.049, 1.058)
ticksD = [0, 0.25, 0.5, 0.75, 1.0]
axD.set_xticks(ticksD)
axD.set_yticks(ticksD)
axD.set_xticks([0.125, 0.375, 0.625, 0.875], minor=True)
axD.set_yticks([0.125, 0.375, 0.625, 0.875], minor=True)
axD.set_xticklabels(['0.00', '0.25', '0.50', '0.75', '1.00'])
axD.set_yticklabels(['0.00', '0.25', '0.50', '0.75', '1.00'])
axD.grid(which='major', color='#E6E6E6', lw=0.8)
axD.grid(which='minor', color='#F3F3F3', lw=0.5)
axD.set_axisbelow(True)
for sp in axD.spines.values():
    sp.set_color('#8C8C8C')
    sp.set_linewidth(0.8)
axD.tick_params(axis='both', which='major', bottom=True, left=True, direction='out', length=1.5, width=0.6,
                color='#777777', labelsize=5.0, labelcolor='#555555', pad=1.2)
axD.tick_params(axis='both', which='minor', bottom=False, left=False)
axD.plot([-0.1, 1.1], [-0.1, 1.1], ls=(0, (2.2, 2.2)), color='black', lw=1.0, zorder=6)
for data, col in zip([roc_1y, roc_2y, roc_3y, roc_4y, roc_5y], D_colors):
    sns.lineplot(x=[d[0] for d in data], y=[d[1] for d in data], ax=axD, color=col, lw=0.9,
                 estimator=None, sort=False)
axD.set_xlabel('')
axD.set_ylabel('')
ov.add_patch(Rectangle((268, 952), 104, 92, facecolor='white', lw=0, zorder=1))
ov.text(282, 965, 'AUC', fontsize=6.2, ha='left', va='center', color='#222222')
for i, (lab, col) in enumerate(zip(D_labels, D_colors)):
    yy = 980 + i * 13.5
    ov.plot([283, 295], [yy, yy], color=col, lw=0.9)
    ov.text(300, yy, lab, fontsize=5.2, ha='left', va='center', color='#222222')
ov.text(45, 908, 'TP', fontsize=6.2, rotation=90, ha='center', va='center', color='#222222')
ov.text(227, 1079, 'FP', fontsize=6.2, ha='center', va='center', color='#222222')

# ---------------- E ----------------
axE = px_axes(434.3, 755, 751, 1059)
axE.set_facecolor('white')
axE.set_xlim(-0.039, 1.04)
axE.set_ylim(-0.042, 1.045)
axE.plot([-0.1, 1.1], [-0.1, 1.1], color='#111111', lw=0.8, zorder=1)
E_data = [tp53, hou, meng4, meng8, wu5, wu7, yue, zhou, deng]
for data, col in list(zip(E_data, E_colors))[::-1]:
    sns.lineplot(x=[d[0] for d in data], y=[d[1] for d in data], ax=axE, color=col, lw=1.3,
                 drawstyle='steps-post', estimator=None, sort=False)
axE.set_xticks([0, 0.2, 0.4, 0.6, 0.8, 1.0])
axE.set_yticks([0, 0.2, 0.4, 0.6, 0.8, 1.0])
axE.set_xticklabels(['0.0', '0.2', '0.4', '0.6', '0.8', '1.0'])
axE.set_yticklabels(['0.0', '0.2', '0.4', '0.6', '0.8', '1.0'], rotation=90, va='center')
for sp in axE.spines.values():
    sp.set_color('#222222')
    sp.set_linewidth(0.9)
axE.tick_params(axis='both', bottom=True, left=True, direction='out', length=3.1, width=0.8,
                color='#222222', labelsize=8.0, labelcolor='#222222')
axE.tick_params(axis='x', pad=8.0)
axE.tick_params(axis='y', pad=3.6)
axE.set_xlabel('')
axE.set_ylabel('')
for i, (lab, col) in enumerate(zip(E_labels, E_colors)):
    yy = 941.7 + i * 13.05
    ov.plot([568, 587], [yy, yy], color=col, lw=1.6)
    ov.text(595, yy, lab, fontsize=7.1, ha='left', va='center', color='#222222')
ov.text(395, 905, 'Sensitivity', fontsize=7.6, rotation=90, ha='center', va='center')
ov.text(592, 1104, '1−Specificity', fontsize=7.6, ha='center', va='center')

# ---------------- F ----------------
F_high = [age_gt_high, age_le_high, male_high, female_high, st1_high, st2_high, st34_high, g1_high, g2_high,
          g34_high]
F_high_c = [age_gt_high_cens, age_le_high_cens, male_high_cens, female_high_cens, st1_high_cens, st2_high_cens,
            st34_high_cens, g1_high_cens, g2_high_cens, g34_high_cens]
F_low = [age_gt_low, age_le_low, male_low, female_low, st1_low, st2_low, st34_low, g1_low, g2_low, g34_low]
F_low_c = [age_gt_low_cens, age_le_low_cens, male_low_cens, female_low_cens, st1_low_cens, st2_low_cens,
           st34_low_cens, g1_low_cens, g2_low_cens, g34_low_cens]
F_title_pos = [(2.68, 0.94), (2.96, 0.94), (2.56, 0.9), (2.67, 0.9), (2.81, 0.95), (2.68, 0.97),
               (2.03, 0.975), (2.77, 0.97), (3.14, 0.96), (3.27, 1.0)]
F_cols = [833, 1087]
F_w = 188
for k in range(10):
    r, c = divmod(k, 2)
    dy = 224.5 * r
    x0 = F_cols[c]
    x1 = x0 + F_w
    cx = (x0 + x1) / 2
    xmax = F_xmax[k]
    ax = px_axes(x0, 47 + dy, x1, 164.3 + dy)
    km_curve(ax, F_high[k], F_ends[k][0], F_high_c[k], HIGH_C, 0.9, 3.2, 0.6)
    km_curve(ax, F_low[k], F_ends[k][1], F_low_c[k], LOW_C, 0.9, 3.2, 0.6)
    km_style(ax, xmax, 6.0, 0.7, 1.5, 0.7)
    ax.text(0.02 * xmax, 0.21, F_pvals[k], fontsize=5.3, ha='left', va='center', color='#222222')
    tx, ty = F_title_pos[k]
    ax.text(tx, ty, F_titles[k], fontsize=12.5, ha='center', va='center', color='#111111',
            family=['Liberation Sans', 'Noto Sans CJK SC', 'DejaVu Sans'])
    km_legend(cx, 30.7 + dy, 0.65, 4.3, 0.8, 3)
    ov.text(x0 - 41, 105.6 + dy, 'Survival probability', fontsize=6.4, rotation=90, ha='center', va='center')
    ov.text(cx, 179 + dy, 'Time(years)', fontsize=6.6, ha='center', va='center')
    axr = px_axes(x0, 205.3 + dy, x1, 220 + dy)
    risk_table(axr, xmax, F_risk_high[k], F_risk_low[k], 6.3, 5.8, 5.8, 0.7, 1.5, 0.8)
    ov.text(x0 - 44, 212.7 + dy, 'Risk', fontsize=6.4, rotation=90, ha='center', va='center')
    ov.text(cx, 236 + dy, 'Time(years)', fontsize=6.6, ha='center', va='center')

# ---------------- frame & caption ----------------
ov.add_patch(FancyBboxPatch((9, 9), 1283, 1249, boxstyle='round,pad=0,rounding_size=14', fill=False,
                            ec='black', lw=1.5))

CAP_FONT = ['Lato', 'DejaVu Sans']
renderer = fig.canvas.get_renderer()


def run_width(txt, fs, style):
    wt = 'bold' if style == 'bold' else 'normal'
    st = 'italic' if style == 'italic' else 'normal'
    t1 = ov.text(0, 0, '|' + txt + '|', fontsize=fs, fontweight=wt, fontstyle=st, family=CAP_FONT)
    t2 = ov.text(0, 0, '||', fontsize=fs, fontweight=wt, fontstyle=st, family=CAP_FONT)
    w = t1.get_window_extent(renderer).width - t2.get_window_extent(renderer).width
    t1.remove()
    t2.remove()
    return w


base_fs = 12.0
wmax = max(sum(run_width(t, base_fs, s) for t, s in line) for line in caption_lines)
cap_fs = base_fs * 1250.0 / wmax
for line, yb in zip(caption_lines, [1170, 1197, 1224, 1250]):
    x = 25
    for txt, style in line:
        wt = 'bold' if style == 'bold' else 'normal'
        st = 'italic' if style == 'italic' else 'normal'
        ov.text(x, yb, txt, fontsize=cap_fs, fontweight=wt, fontstyle=st, family=CAP_FONT,
                ha='left', va='baseline', color='#231F20')
        x += run_width(txt, cap_fs, style)

fig.savefig('out.png', dpi=100, facecolor='white')
